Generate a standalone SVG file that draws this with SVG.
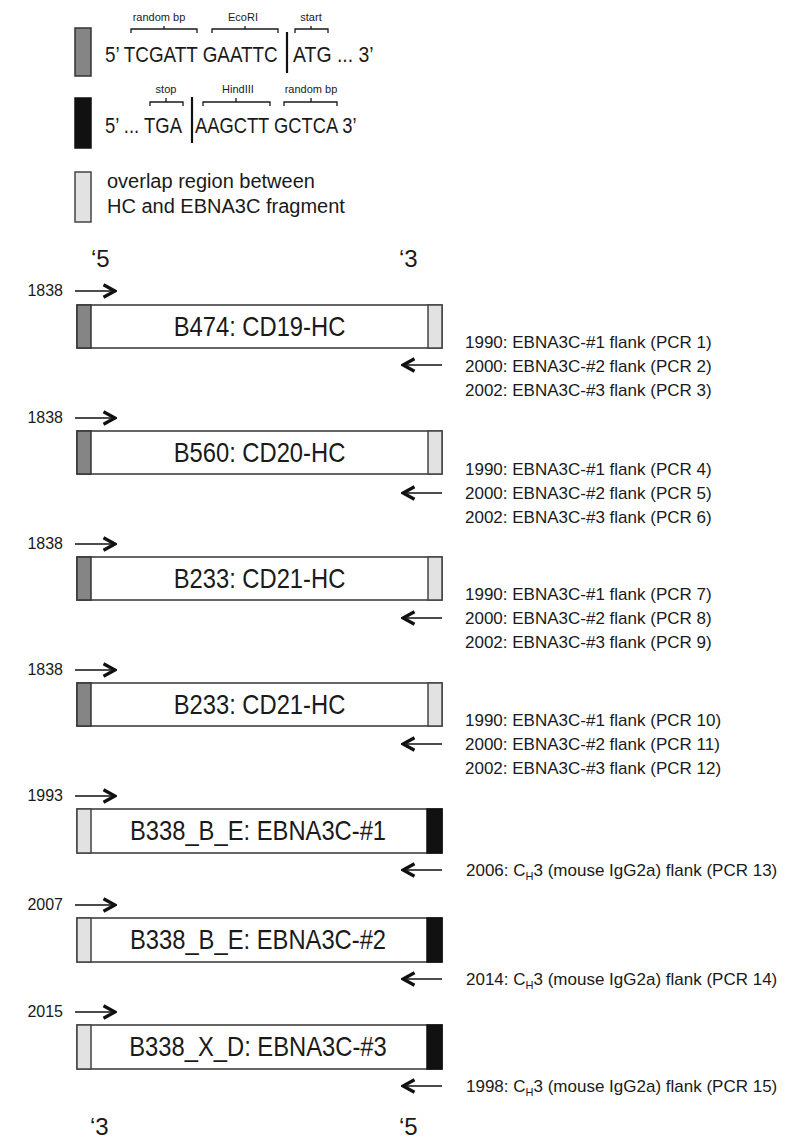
<svg xmlns="http://www.w3.org/2000/svg" width="809" height="1140" viewBox="0 0 809 1140">
<style>
text{font-family:"Liberation Sans",Arial,sans-serif;fill:#1a1a1a}
.seq{font-size:22px}
.sm{font-size:11px}
.leg{font-size:20px}
.yr{font-size:16px;text-anchor:end}
.pcr{font-size:17px}
.end{font-size:24px}
.lbl{font-size:27px;text-anchor:middle}
.box{fill:#fff;stroke:#333;stroke-width:1.5}
.capG{fill:#858585;stroke:#333;stroke-width:1.5}
.capL{fill:#e2e2e2;stroke:#444;stroke-width:1.5}
.capB{fill:#111;stroke:#111;stroke-width:1.5}
.br{fill:none;stroke:#1a1a1a;stroke-width:1.3}
.bar{stroke:#111;stroke-width:2.2}
.ar{stroke:#111;stroke-width:1.6;marker-end:url(#ah)}
</style>
<defs>
<marker id="ah" viewBox="0 0 16 16" refX="14" refY="8" markerWidth="16" markerHeight="16" markerUnits="userSpaceOnUse" orient="auto">
<path d="M2.5,1.8 L14,8 L2.5,14.2" fill="none" stroke="#111" stroke-width="3.3" stroke-linejoin="miter"/>
</marker>
</defs>

<g id="legend">
<g id="legend-start">
<rect class="capG" x="75" y="28" width="16" height="48"/>
<path class="br" d="M131,33 V29 H197 V33 M164,29 V26"/>
<path class="br" d="M212,33 V29 H278 V33 M245,29 V26"/>
<path class="br" d="M295,33 V29 H328 V33 M311,29 V26"/>
<text class="sm" x="159" y="21" text-anchor="middle">random bp</text>
<text class="sm" x="243" y="21" text-anchor="middle">EcoRI</text>
<text class="sm" x="311" y="21" text-anchor="middle">start</text>
<text class="seq" transform="translate(105,62) scale(0.857,1)">5’ TCGATT GAATTC</text>
<line class="bar" x1="287" y1="32" x2="287" y2="73"/>
<text class="seq" transform="translate(293,62) scale(0.883,1)">ATG ... 3’</text>
</g>
<g id="legend-stop">
<rect class="capB" x="75" y="98" width="16" height="50"/>
<path class="br" d="M150,106 V102 H183 V106 M166,102 V98"/>
<path class="br" d="M203,106 V102 H270 V106 M236,102 V98"/>
<path class="br" d="M284,106 V102 H337 V106 M311,102 V98"/>
<text class="sm" x="166" y="93" text-anchor="middle">stop</text>
<text class="sm" x="238" y="93" text-anchor="middle">HindIII</text>
<text class="sm" x="311" y="93" text-anchor="middle">random bp</text>
<text class="seq" transform="translate(105,133) scale(0.84,1)">5’ ... TGA</text>
<line class="bar" x1="192" y1="97" x2="192" y2="143"/>
<text class="seq" transform="translate(195,133) scale(0.833,1)">AAGCTT GCTCA 3’</text>
</g>
<g id="legend-overlap">
<rect class="capL" x="75" y="172" width="16" height="50"/>
<text class="leg" x="107" y="188">overlap region between</text>
<text class="leg" x="107" y="213">HC and EBNA3C fragment</text>
</g>
</g>

<g id="ends">
<text class="end" x="91" y="267">‘5</text>
<text class="end" x="399" y="267">‘3</text>
<text class="end" x="90" y="1135">‘3</text>
<text class="end" x="399" y="1135">‘5</text>
</g>

<g id="box1">
<rect class="box" x="77" y="305" width="365" height="43"/>
<rect class="capG" x="77" y="305" width="14" height="43"/>
<rect class="capL" x="428" y="305" width="14" height="43"/>
<text class="lbl" transform="translate(259.5,336) scale(0.88,1)">B474: CD19-HC</text>
<text class="yr" x="63" y="296">1838</text>
<text class="pcr" x="465" y="348">1990: EBNA3C-#1 flank (PCR 1)</text>
<text class="pcr" x="465" y="372">2000: EBNA3C-#2 flank (PCR 2)</text>
<text class="pcr" x="465" y="396">2002: EBNA3C-#3 flank (PCR 3)</text>
</g>
<g id="box2">
<rect class="box" x="77" y="431" width="365" height="43"/>
<rect class="capG" x="77" y="431" width="14" height="43"/>
<rect class="capL" x="428" y="431" width="14" height="43"/>
<text class="lbl" transform="translate(259.5,462) scale(0.88,1)">B560: CD20-HC</text>
<text class="yr" x="63" y="423">1838</text>
<text class="pcr" x="465" y="475">1990: EBNA3C-#1 flank (PCR 4)</text>
<text class="pcr" x="465" y="499">2000: EBNA3C-#2 flank (PCR 5)</text>
<text class="pcr" x="465" y="523">2002: EBNA3C-#3 flank (PCR 6)</text>
</g>
<g id="box3">
<rect class="box" x="77" y="557" width="365" height="43"/>
<rect class="capG" x="77" y="557" width="14" height="43"/>
<rect class="capL" x="428" y="557" width="14" height="43"/>
<text class="lbl" transform="translate(259.5,588) scale(0.88,1)">B233: CD21-HC</text>
<text class="yr" x="63" y="549">1838</text>
<text class="pcr" x="465" y="600">1990: EBNA3C-#1 flank (PCR 7)</text>
<text class="pcr" x="465" y="624">2000: EBNA3C-#2 flank (PCR 8)</text>
<text class="pcr" x="465" y="648">2002: EBNA3C-#3 flank (PCR 9)</text>
</g>
<g id="box4">
<rect class="box" x="77" y="683" width="365" height="43"/>
<rect class="capG" x="77" y="683" width="14" height="43"/>
<rect class="capL" x="428" y="683" width="14" height="43"/>
<text class="lbl" transform="translate(259.5,714) scale(0.88,1)">B233: CD21-HC</text>
<text class="yr" x="63" y="675">1838</text>
<text class="pcr" x="465" y="726">1990: EBNA3C-#1 flank (PCR 10)</text>
<text class="pcr" x="465" y="750">2000: EBNA3C-#2 flank (PCR 11)</text>
<text class="pcr" x="465" y="774">2002: EBNA3C-#3 flank (PCR 12)</text>
</g>
<g id="box5">
<rect class="box" x="77" y="809" width="365" height="44"/>
<rect class="capL" x="77" y="809" width="14" height="44"/>
<rect class="capB" x="427" y="809" width="15" height="44"/>
<text class="lbl" transform="translate(258,840) scale(0.88,1)">B338_B_E: EBNA3C-#1</text>
<text class="yr" x="63" y="801">1993</text>
<text class="pcr" x="466" y="876">2006: C<tspan font-size="11" dy="4">H</tspan><tspan dy="-4">3 (mouse IgG2a) flank (PCR 13)</tspan></text>
</g>
<g id="box6">
<rect class="box" x="77" y="918" width="365" height="44"/>
<rect class="capL" x="77" y="918" width="14" height="44"/>
<rect class="capB" x="427" y="918" width="15" height="44"/>
<text class="lbl" transform="translate(258,949) scale(0.88,1)">B338_B_E: EBNA3C-#2</text>
<text class="yr" x="63" y="910">2007</text>
<text class="pcr" x="466" y="985">2014: C<tspan font-size="11" dy="4">H</tspan><tspan dy="-4">3 (mouse IgG2a) flank (PCR 14)</tspan></text>
</g>
<g id="box7">
<rect class="box" x="77" y="1025" width="365" height="44"/>
<rect class="capL" x="77" y="1025" width="14" height="44"/>
<rect class="capB" x="427" y="1025" width="15" height="44"/>
<text class="lbl" transform="translate(258,1056) scale(0.88,1)">B338_X_D: EBNA3C-#3</text>
<text class="yr" x="63" y="1017">2015</text>
<text class="pcr" x="466" y="1092">1998: C<tspan font-size="11" dy="4">H</tspan><tspan dy="-4">3 (mouse IgG2a) flank (PCR 15)</tspan></text>
</g>

<g id="connectors">
<line class="ar" x1="75" y1="291" x2="115" y2="291"/>
<line class="ar" x1="442" y1="365" x2="403" y2="365"/>
<line class="ar" x1="75" y1="418" x2="115" y2="418"/>
<line class="ar" x1="442" y1="493" x2="403" y2="493"/>
<line class="ar" x1="75" y1="544" x2="115" y2="544"/>
<line class="ar" x1="442" y1="618" x2="403" y2="618"/>
<line class="ar" x1="75" y1="670" x2="115" y2="670"/>
<line class="ar" x1="442" y1="744" x2="403" y2="744"/>
<line class="ar" x1="75" y1="796" x2="115" y2="796"/>
<line class="ar" x1="442" y1="870" x2="403" y2="870"/>
<line class="ar" x1="75" y1="905" x2="115" y2="905"/>
<line class="ar" x1="442" y1="979" x2="403" y2="979"/>
<line class="ar" x1="75" y1="1012" x2="115" y2="1012"/>
<line class="ar" x1="442" y1="1086" x2="403" y2="1086"/>
</g>
</svg>
